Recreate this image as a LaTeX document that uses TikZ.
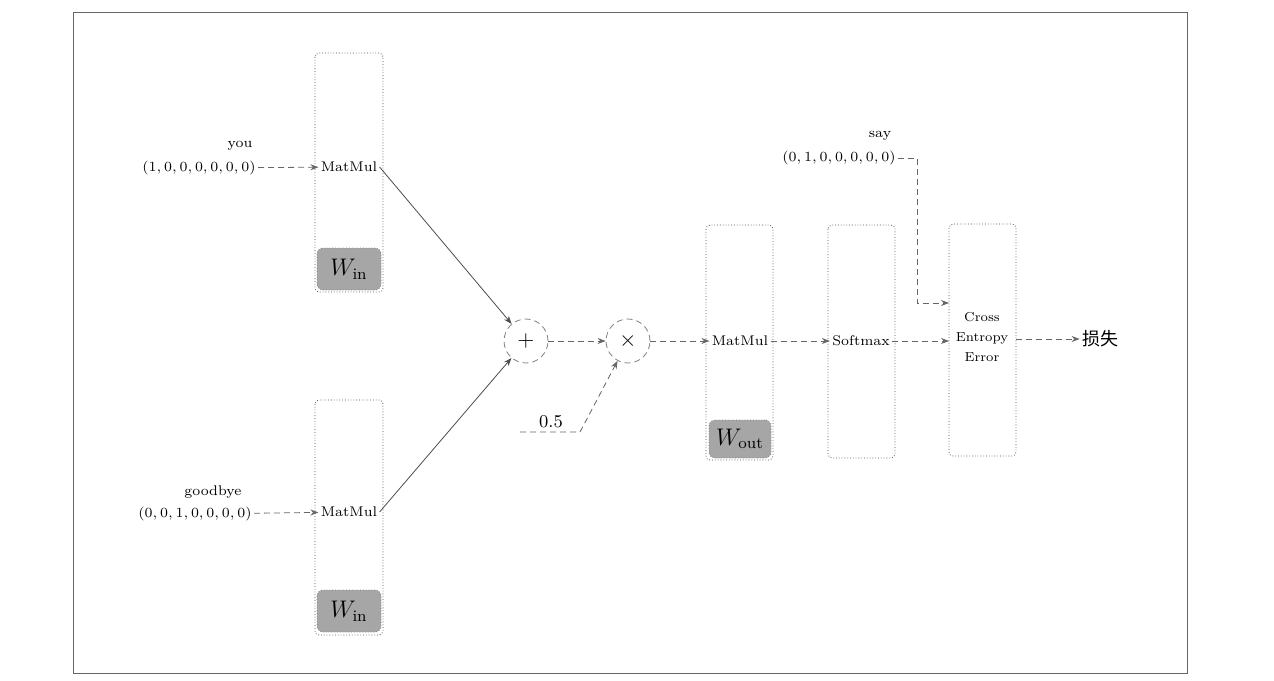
\documentclass[tikz,border=0pt]{standalone}
\usepackage{fontspec}
\newfontfamily\cjk{Noto Sans CJK SC}
\usetikzlibrary{arrows.meta}
\begin{document}
\begin{tikzpicture}[x=0.5pt,y=-0.5pt,font=\fontsize{7}{8}\selectfont,
  layer/.style={draw=black!70,densely dotted,rounded corners=2pt},
  wbox/.style={fill=black!35,draw=black!50,densely dotted,rounded corners=3pt,font=\fontsize{12}{13}\selectfont},
  darr/.style={draw=black!60,densely dashed,-{Stealth[length=4pt]}},
  sarr/.style={draw=black!70,-{Stealth[length=4pt]}},
  opc/.style={circle,draw=black!50,densely dashed,minimum size=22pt,inner sep=0pt,font=\fontsize{11}{12}\selectfont}]
\useasboundingbox (0,0) rectangle (1274,680);
\draw[black!60] (73,12) rectangle (1187,673);
% left boxes
\draw[layer] (315,53) rectangle (383,292);
\node[wbox,minimum width=32pt,minimum height=21pt] (w1) at (349,269) {$W_{\mathrm{in}}$};
\node[inner sep=1pt] (m1) at (349,167) {MatMul};
\draw[layer] (315,400) rectangle (383,635);
\node[wbox,minimum width=32pt,minimum height=21pt] (w2) at (349,611) {$W_{\mathrm{in}}$};
\node[inner sep=1pt] (m2) at (349,512) {MatMul};
\node (you) at (240,146) {you};
\node[inner sep=1pt,anchor=east] (v1) at (258,168) {$(1,0,0,0,0,0,0)$};
\node (gb) at (213,492) {goodbye};
\node[inner sep=1pt,anchor=east] (v2) at (254,514) {$(0,0,1,0,0,0,0)$};
\draw[darr] (v1) -- (m1);
\draw[darr] (v2) -- (m2);
\node[opc] (plus) at (526,341) {$+$};
\node[opc] (times) at (628,341) {$\times$};
\draw[sarr] (m1.east) -- (plus);
\draw[sarr] (m2.east) -- (plus);
\draw[darr] (plus) -- (times);
\node[font=\fontsize{9}{10}\selectfont] (half) at (551,422) {0.5};
\coordinate (h0) at (520,432);
\coordinate (h1) at (580,432);
\draw[darr] (h0) -- (h1) -- (times);
% right
\draw[layer] (706,225) rectangle (773,460);
\node[wbox,minimum width=31pt,minimum height=19pt] (w3) at (740,439) {$W_{\mathrm{out}}$};
\node[inner sep=1pt] (m3) at (740,341) {MatMul};
\draw[layer] (828,225) rectangle (895,458);
\node[inner sep=1pt] (sm) at (861,341) {Softmax};
\draw[layer] (949,224) rectangle (1016,456);
\node[align=center,inner sep=1pt,font=\fontsize{6.5}{10}\selectfont] (ce) at (982,337) {Cross\\Entropy\\Error};
\node[font=\cjk\fontsize{9}{10}\selectfont,inner sep=1pt] (loss) at (1100,339) {损失};
\draw[darr] (times) -- (m3);
\draw[darr] (m3) -- (sm);
\draw[darr] (sm) -- (949,341);
\draw[darr] (1016,339) -- (loss);
\node (say) at (880,136) {say};
\node[inner sep=1pt,anchor=east] (v3) at (898,158) {$(0,1,0,0,0,0,0)$};
\coordinate (s1) at (917,158);
\coordinate (s2) at (917,303);
\coordinate (s3) at (949,303);
\draw[darr] (v3) -- (s1) -- (s2) -- (s3);
\end{tikzpicture}
\end{document}
